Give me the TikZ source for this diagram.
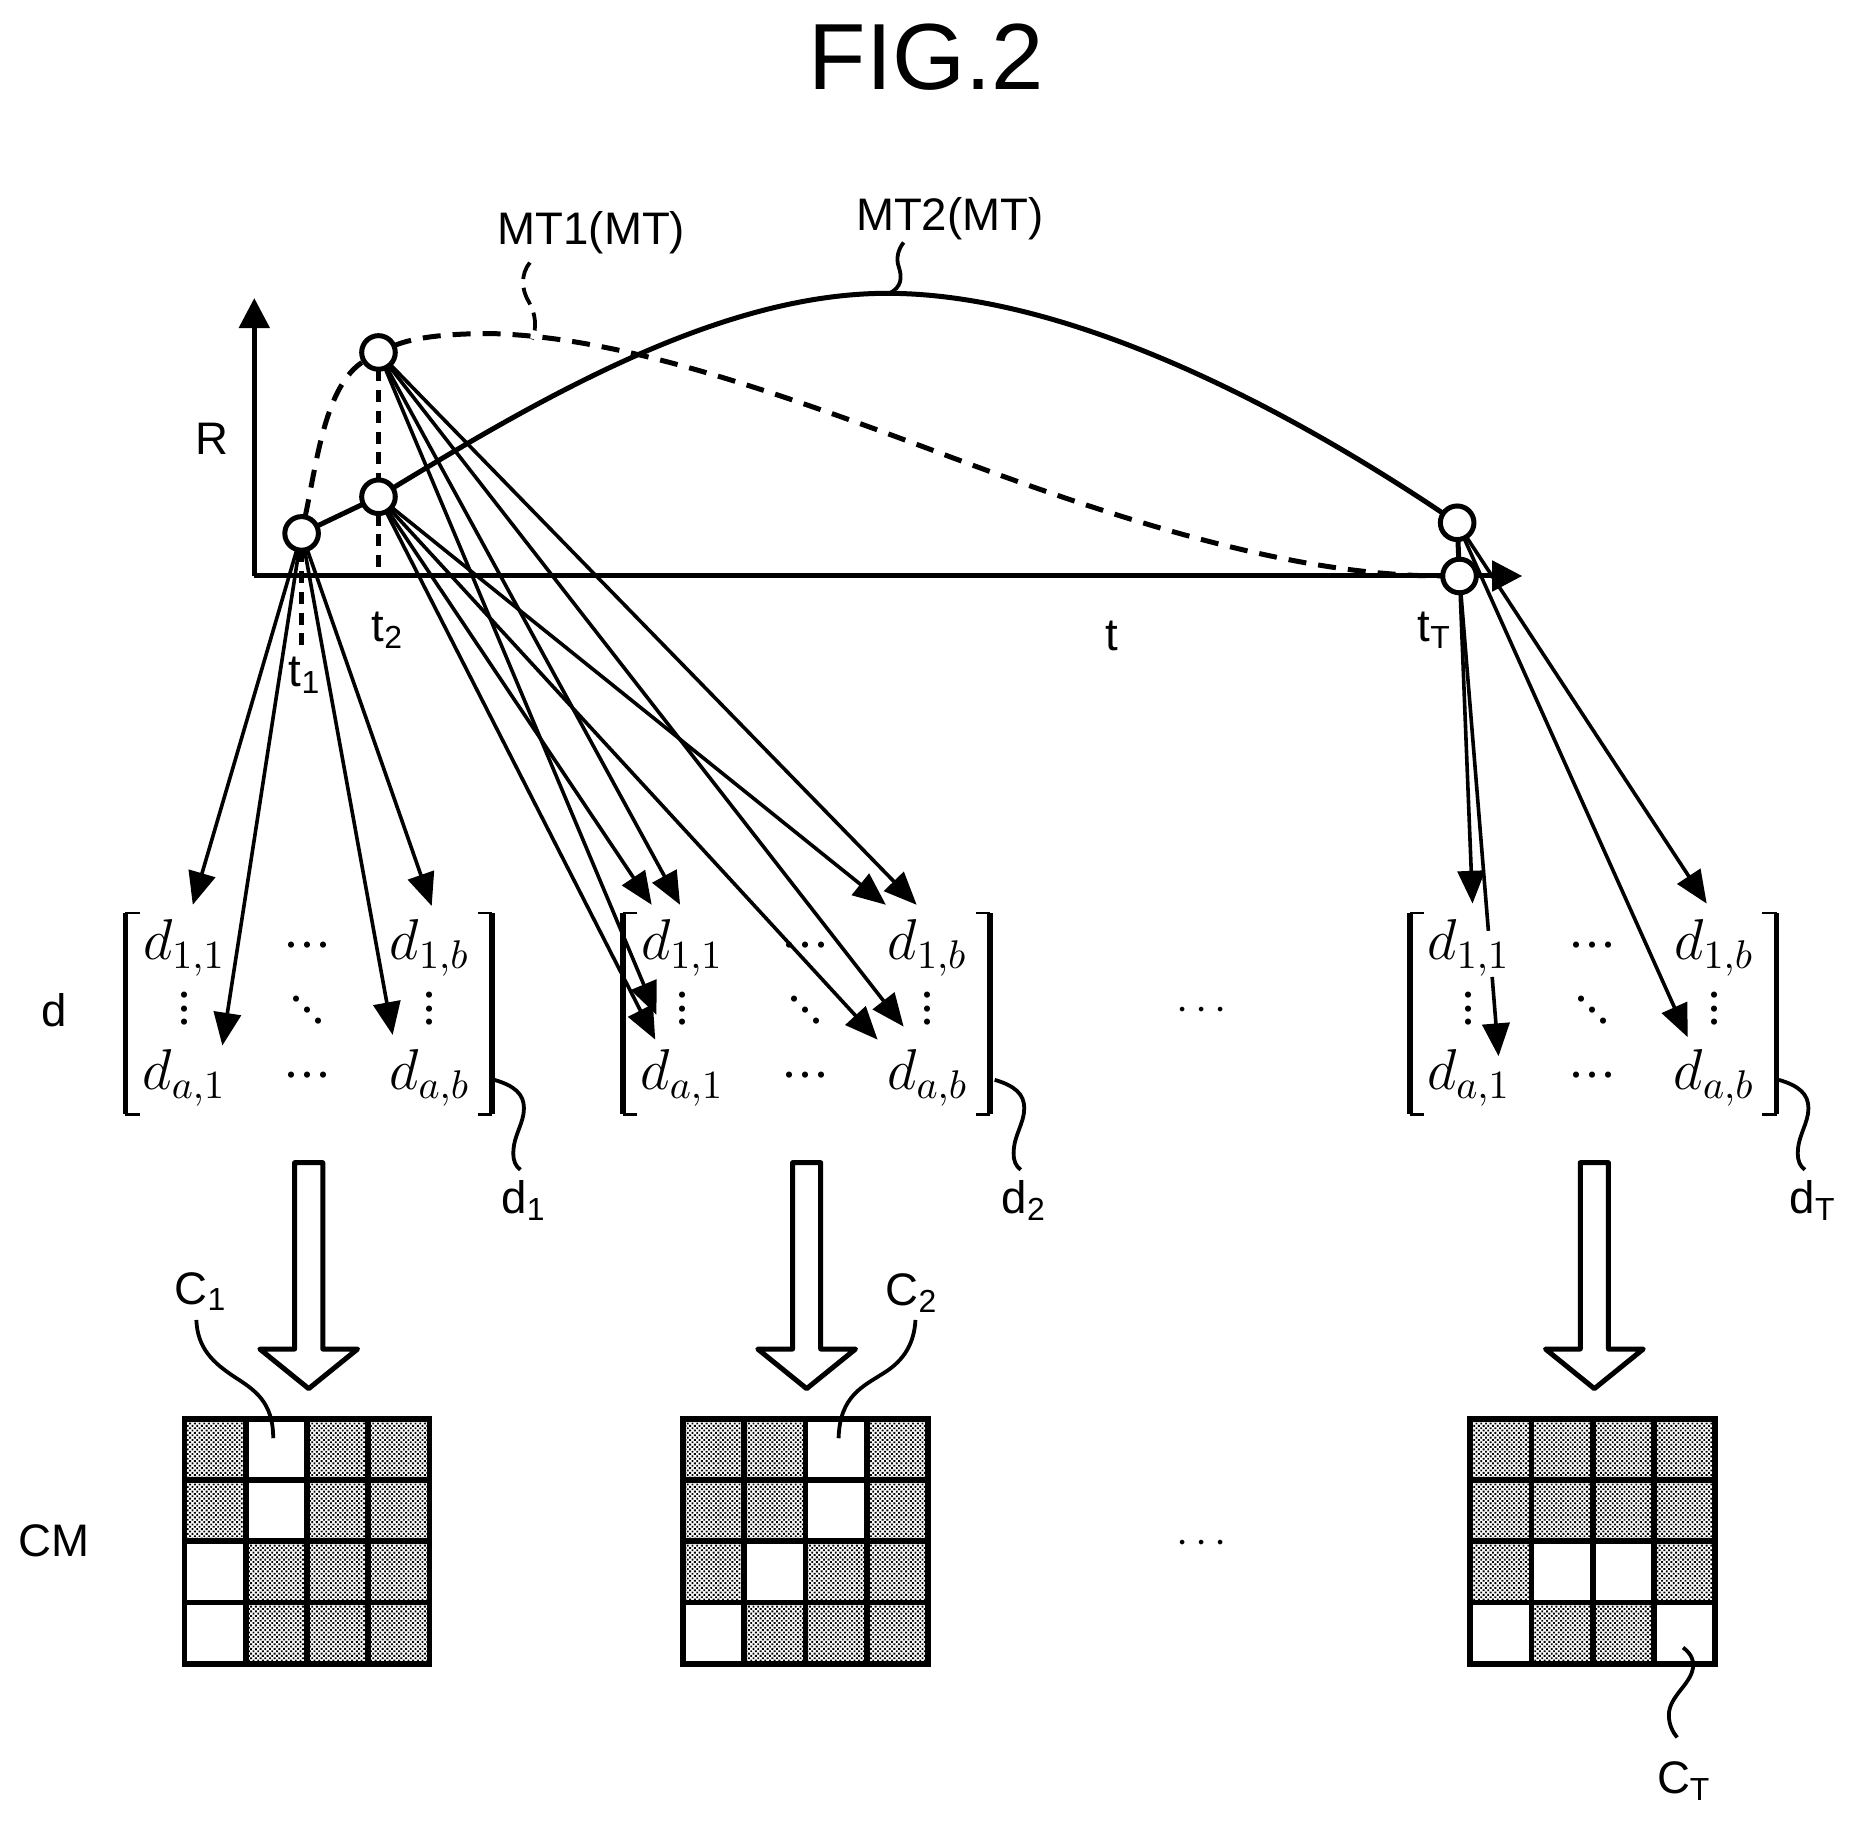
\documentclass[tikz,border=0pt]{standalone}
\usepackage{amsmath}
\usepackage{amssymb}
\usepackage[no-math]{fontspec}
\setmainfont{Liberation Sans}
\usetikzlibrary{arrows.meta}
\usetikzlibrary{patterns,patterns.meta}
\usetikzlibrary{shapes.arrows}
\newcommand{\cellsize}{15.3pt}
\newcommand{\rowdots}{{\cdot}{\cdot}{\cdot}}
\newcommand{\coldots}{\vcenter{\baselineskip=3.4pt \lineskiplimit=-100pt \hbox{\(\cdot\)}\hbox{\(\cdot\)}\hbox{\(\cdot\)}}}
\newcommand{\diagdots}{\raisebox{2.7pt}{\({\cdot}\)}\kern-1.3pt{\cdot}\kern-1.3pt\raisebox{-2.7pt}{\({\cdot}\)}}
\newcommand{\dmatrix}{\(\kern-1.2pt\begin{matrix} d_{1,1} & \rowdots & d_{1,b}\\ \coldots & \diagdots & \coldots\\ d_{a,1} & \rowdots & d_{a,b} \end{matrix}\)}
\tikzstyle{point}=[draw, fill=white, circle, line width=1.25pt, inner sep=0, outer sep=0, minimum size=8.4pt]
\tikzstyle{label}=[inner sep=0, outer sep=0, font=\fontsize{11.4}{13}\selectfont]
\tikzstyle{axis}=[line width=1.25pt, -{Triangle[length=7.5pt, width=7.5pt]}]
\tikzstyle{curve}=[line width=1.25pt]
\tikzstyle{dashcurve}=[line width=1.25pt, dash pattern=on 4.5pt off 3pt]
\tikzstyle{drop}=[line width=1.1pt, dash pattern=on 3pt off 2.2pt]
\tikzstyle{darrow}=[line width=0.9pt, -{Triangle[length=8.2pt, width=6.8pt]}]
\tikzstyle{leader}=[line width=0.95pt]
\tikzstyle{dnode}=[inner sep=0, outer sep=0, font=\Large, minimum width=91.7pt, text height=28.3pt, text depth=22pt]
\tikzstyle{dbar}=[line width=1.4pt]
\tikzstyle{dtick}=[line width=0.7pt]
\tikzstyle{bigarrow}=[draw, fill=white, line width=1.25pt, line join=round, single arrow, shape border rotate=270, anchor=tail,
                      inner sep=2.9pt, outer sep=0, minimum height=56.5pt, single arrow head extend=8.7pt, single arrow tip angle=102]
\tikzstyle{cell}=[draw, line width=1.4pt, anchor=north west, inner sep=0, outer sep=0, minimum size=\cellsize]
% One 4x4 map: name, left edge, white cells.
\newcommand{\cellmap}[3]{
    \foreach \r in {1,...,4} {
        \foreach \c in {1,...,4} {
            \node[cell, pattern={Dots[distance=0.83pt, radius=0.33pt, angle=45]}] (#1-\r-\c) at ({#2+51.8*(\c-1)}, {1199.5+51.8*(\r-1)}) {};
        }
    }
    \foreach \r/\c in {#3} {
        \node[cell, fill=white] (#1-w-\r-\c) at (#1-\r-\c.north west) {};
    }
}
\renewcommand{\arraystretch}{0.9}
\setlength{\arraycolsep}{7.2pt}

\begin{document}
\begin{tikzpicture}[x=0.2957pt, y=-0.2957pt]
    \useasboundingbox (0, 0) rectangle (1565, 1539);
    \node[inner sep=0, font=\fontsize{23.5}{27}\selectfont] (title) at (783, 48) {FIG.2};

    \node[dnode] (M1) at (261, 857) {\dmatrix};
    \node[dnode] (M2) at (682, 857) {\dmatrix};
    \node[dnode] (MT) at (1347, 857) {\dmatrix};
    \foreach \m in {M1, M2, MT} {
        \draw[dbar] (\m.north west) -- (\m.south west);
        \draw[dbar] (\m.north east) -- (\m.south east);
        \draw[dtick] (\m.north west) -- +(12, 0);
        \draw[dtick] (\m.south west) -- +(12, 0);
        \draw[dtick] (\m.north east) -- +(-12, 0);
        \draw[dtick] (\m.south east) -- +(-12, 0);
    }

    \coordinate (O) at (215, 487);
    \coordinate (Rtip) at (215, 252);
    \coordinate (ttip) at (1287, 487);
    \draw[axis] (O) -- (Rtip);
    \draw[axis] (O) -- (ttip);

    \node[point] (P1) at (255, 451) {};
    \node[point] (A2) at (320, 298) {};
    \node[point] (B2) at (320, 420) {};
    \node[point] (TU) at (1232, 442) {};
    \node[point] (TL) at (1234, 487) {};

    \coordinate (P1b) at (255, 552);
    \coordinate (B2b) at (320, 487);
    \draw[drop] (P1) -- (P1b);
    \draw[drop] (A2) -- (B2);
    \draw[drop] (B2) -- (B2b);
    \draw[line width=1.25pt] (TU) -- (TL);

    \draw[curve] (P1) -- (B2);
    \draw[curve] (B2) .. controls (460, 335) and (610, 248) .. (750, 248) .. controls (900, 248) and (1080, 340) .. (TU);
    \draw[dashcurve] (P1) .. controls (268, 390) and (275, 325) .. (A2);
    \draw[dashcurve] (A2) .. controls (350, 285) and (380, 282) .. (415, 282) .. controls (520, 285) and (640, 325) .. (800, 385)
                     .. controls (960, 445) and (1100, 487) .. (TL);

    \coordinate (e11) at (163, 765);
    \coordinate (e12) at (188, 884);
    \coordinate (e13) at (332, 875);
    \coordinate (e14) at (365, 766);
    \coordinate (e21) at (551, 765);
    \coordinate (e22) at (575, 765);
    \coordinate (e23) at (749, 765);
    \coordinate (e24) at (775, 765);
    \coordinate (e25) at (555, 858);
    \coordinate (e26) at (554, 879);
    \coordinate (e27) at (764, 868);
    \coordinate (e28) at (742, 879);
    \coordinate (eT1) at (1245, 764);
    \coordinate (eT2) at (1267, 893);
    \coordinate (eT3) at (1443, 764);
    \coordinate (eT4) at (1427, 877);
    \coordinate (gap1) at (1258.4, 787);
    \coordinate (gap2) at (1261.6, 826);
    \draw[darrow] (P1) -- (e11);
    \draw[darrow] (P1) -- (e12);
    \draw[darrow] (P1) -- (e13);
    \draw[darrow] (P1) -- (e14);
    \draw[darrow] (A2) -- (e22);
    \draw[darrow] (A2) -- (e24);
    \draw[darrow] (A2) -- (e25);
    \draw[darrow] (A2) -- (e27);
    \draw[darrow] (B2) -- (e21);
    \draw[darrow] (B2) -- (e23);
    \draw[darrow] (B2) -- (e26);
    \draw[darrow] (B2) -- (e28);
    \draw[darrow] (TL) -- (eT1);
    \draw[line width=0.9pt] (TL) -- (gap1);
    \draw[darrow] (gap2) -- (eT2);
    \draw[darrow] (TU) -- (eT3);
    \draw[darrow] (TU) -- (eT4);

    \node[bigarrow] (B1) at (261, 983) {};
    \node[bigarrow] (B2a) at (682, 983) {};
    \node[bigarrow] (BT) at (1348, 983) {};

    \cellmap{C1}{156}{1/2, 2/2, 3/1, 4/1}
    \cellmap{C2}{577.5}{1/3, 2/3, 3/2, 4/1}
    \cellmap{CT}{1243}{3/2, 3/3, 4/1, 4/4}

    \node[label] (Rlab)  at (179, 371)  {R};
    \node[label] (tlab)  at (940, 538)  {t};
    \node[label] (t1lab) at (258, 571)  {t\textsubscript{1}};
    \node[label] (t2lab) at (328, 533)  {t\textsubscript{2}};
    \node[label] (tTlab) at (1213, 533) {t\textsubscript{T}};
    \node[label] (MT1)   at (500, 197)  {MT1(MT)};
    \node[label] (MT2)   at (803, 185)  {MT2(MT)};
    \node[label] (dlab)  at (46, 854)   {d};
    \node[label] (CMlab) at (46, 1303)  {CM};
    \node[label] (d1)    at (443, 1015) {d\textsubscript{1}};
    \node[label] (d2)    at (866, 1015) {d\textsubscript{2}};
    \node[label] (dT)    at (1533, 1015) {d\textsubscript{T}};
    \node[label] (C1lab) at (170, 1092) {C\textsubscript{1}};
    \node[label] (C2lab) at (771, 1093) {C\textsubscript{2}};
    \node[label] (CTlab) at (1424, 1506) {C\textsubscript{T}};
    \node[label] (dots1) at (1016, 855) {\(\cdots\)};
    \node[label] (dots2) at (1016, 1305) {\(\cdots\)};

    \foreach \dx in {0, 423, 1086} {
        \draw[leader] ({418+\dx}, 913) .. controls ({435+\dx}, 918) and ({443+\dx}, 925) .. ({443+\dx}, 937)
                      .. controls ({443+\dx}, 950) and ({434+\dx}, 960) .. ({434+\dx}, 975)
                      .. controls ({434+\dx}, 982) and ({436+\dx}, 986) .. ({440+\dx}, 989);
    }
    \draw[leader] (166, 1116) .. controls (167, 1140) and (180, 1152) .. (198, 1164) .. controls (215, 1175) and (231, 1185) .. (231, 1216);
    \draw[leader] (774, 1116) .. controls (773, 1135) and (765, 1150) .. (747, 1161) .. controls (730, 1172) and (710, 1180) .. (709, 1216);
    \draw[leader] (1423, 1393) .. controls (1430, 1398) and (1433, 1405) .. (1431, 1412) .. controls (1428, 1425) and (1411, 1435) .. (1411, 1450)
                  .. controls (1411, 1458) and (1414, 1464) .. (1418, 1469);
    \draw[leader, dash pattern=on 4.5pt off 2.2pt] (448, 222) .. controls (440, 232) and (441, 245) .. (447, 255) .. controls (453, 265) and (454, 277) .. (450, 287);
    \draw[leader] (752, 248) .. controls (762, 243) and (763, 235) .. (760, 226) .. controls (757, 218) and (760, 210) .. (764, 205);
\end{tikzpicture}
\end{document}
